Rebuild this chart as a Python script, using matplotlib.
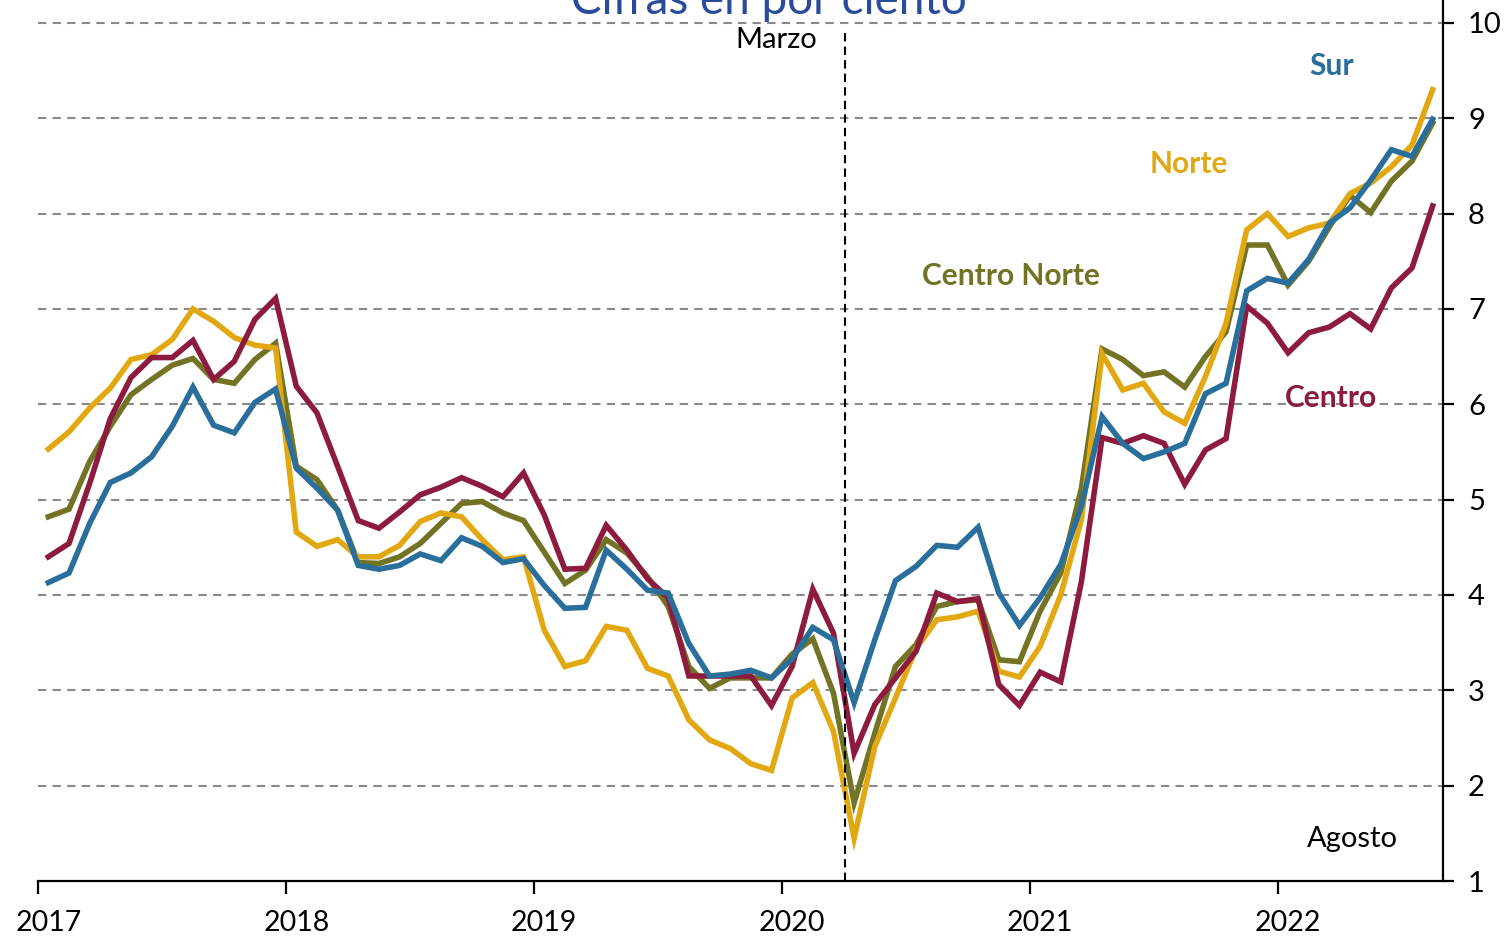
import matplotlib
matplotlib.use("Agg")
import matplotlib.pyplot as plt
import numpy as np

plt.rcParams['font.family'] = ['Lato', 'DejaVu Sans']

years = ["2017", "2018", "2019", "2020", "2021", "2022"]
n_months = 68  # Jan 2017 .. Aug 2022

norte = [5.53, 5.71, 5.96, 6.17, 6.47, 6.52, 6.68, 7.00, 6.87, 6.70, 6.62, 6.59,
         4.66, 4.51, 4.58, 4.40, 4.40, 4.52, 4.77, 4.86, 4.82, 4.58, 4.37, 4.40,
         3.63, 3.25, 3.31, 3.67, 3.63, 3.23, 3.15, 2.69, 2.48, 2.39, 2.23, 2.16,
         2.92, 3.08, 2.57, 1.45, 2.41, 2.92, 3.44, 3.74, 3.77, 3.83, 3.20, 3.14,
         3.46, 4.00, 4.79, 6.53, 6.15, 6.22, 5.92, 5.80, 6.29, 6.85, 7.83, 8.00,
         7.76, 7.85, 7.90, 8.21, 8.32, 8.49, 8.72, 9.30]

centro_norte = [4.82, 4.90, 5.40, 5.77, 6.10, 6.26, 6.41, 6.48, 6.26, 6.22, 6.47, 6.64,
                5.35, 5.21, 4.89, 4.34, 4.33, 4.40, 4.54, 4.75, 4.96, 4.98, 4.86, 4.78,
                4.45, 4.12, 4.26, 4.58, 4.44, 4.19, 3.88, 3.25, 3.02, 3.13, 3.13, 3.13,
                3.38, 3.54, 2.97, 1.82, 2.55, 3.25, 3.48, 3.88, 3.93, 3.95, 3.32, 3.30,
                3.83, 4.23, 5.12, 6.58, 6.47, 6.30, 6.34, 6.18, 6.50, 6.76, 7.67, 7.67,
                7.25, 7.50, 7.86, 8.19, 8.01, 8.34, 8.55, 8.95]

sur = [4.13, 4.23, 4.75, 5.18, 5.28, 5.45, 5.77, 6.18, 5.78, 5.70, 6.02, 6.16,
       5.33, 5.12, 4.89, 4.31, 4.27, 4.31, 4.43, 4.36, 4.60, 4.51, 4.34, 4.38,
       4.10, 3.86, 3.87, 4.47, 4.27, 4.05, 4.02, 3.49, 3.15, 3.17, 3.21, 3.13,
       3.33, 3.66, 3.53, 2.87, 3.53, 4.15, 4.30, 4.52, 4.50, 4.71, 4.02, 3.68,
       3.97, 4.32, 4.93, 5.87, 5.59, 5.43, 5.50, 5.59, 6.11, 6.22, 7.19, 7.32,
       7.27, 7.52, 7.90, 8.06, 8.35, 8.67, 8.60, 8.99]

centro = [4.40, 4.54, 5.17, 5.85, 6.28, 6.49, 6.49, 6.67, 6.26, 6.45, 6.89, 7.11,
          6.19, 5.91, 5.35, 4.78, 4.70, 4.87, 5.05, 5.13, 5.23, 5.14, 5.03, 5.28,
          4.84, 4.27, 4.28, 4.73, 4.47, 4.17, 3.97, 3.15, 3.15, 3.15, 3.15, 2.84,
          3.25, 4.06, 3.60, 2.34, 2.85, 3.13, 3.41, 4.02, 3.93, 3.96, 3.06, 2.84,
          3.19, 3.09, 4.14, 5.65, 5.59, 5.67, 5.59, 5.16, 5.52, 5.64, 7.03, 6.85,
          6.54, 6.75, 6.81, 6.95, 6.79, 7.22, 7.43, 8.08]

y_ticks = [1, 2, 3, 4, 5, 6, 7, 8, 9, 10]

c_norte = '#E2A811'
c_cnorte = '#727324'
c_sur = '#2A6E9C'
c_centro = '#8D1B3D'

fig = plt.figure(figsize=(15.11, 9.36), dpi=100)
W, H = 1511, 936
ax = fig.add_axes([38 / W, (H - 881) / H, (1443 - 38) / W, 881 / H])

x = np.arange(n_months)
ax.set_xlim(-0.5, n_months - 0.5)
ax.set_ylim(1, 10.24)

# grid
for v in y_ticks[1:]:
    ax.axhline(v, color='#8a8a8a', lw=1.5, dashes=(4, 3), zorder=1)

lw = 4.0
ax.plot(x, centro_norte, color=c_cnorte, lw=lw, zorder=3, solid_joinstyle='miter')
ax.plot(x, norte, color=c_norte, lw=lw, zorder=3, solid_joinstyle='miter')
ax.plot(x, centro, color=c_centro, lw=lw, zorder=4, solid_joinstyle='miter')
ax.plot(x, sur, color=c_sur, lw=lw, zorder=5, solid_joinstyle='miter')

# March 2020 marker line
ax.axvline(38.56, ymin=0, ymax=(881 - 32) / 881, color='black', lw=1.5,
           dashes=(4, 2.5), zorder=6)

# spines
for s in ['top', 'left']:
    ax.spines[s].set_visible(False)
ax.spines['bottom'].set_linewidth(1.6)
ax.spines['right'].set_linewidth(1.6)

# y axis on right
ax.yaxis.tick_right()
ax.set_yticks(y_ticks)
ax.set_yticklabels([str(v) for v in y_ticks], fontsize=21)
ax.tick_params(axis='y', direction='out', length=8, width=1.6, pad=10)

# x axis: ticks at year boundaries, labels at January
ax.set_xticks([12 * i - 0.5 for i in range(len(years))])
ax.set_xticklabels([''] * len(years))
ax.tick_params(axis='x', which='major', direction='out', length=9, width=1.6)
ax.set_xticks([12 * i for i in range(len(years))], minor=True)
ax.set_xticklabels(years, minor=True, fontsize=20.5)
ax.tick_params(axis='x', which='minor', length=0, pad=21)

def px(xp, yp):
    return xp / W, 1 - yp / H

# texts
fig.text(*px(769, 14), 'Cifras en por ciento', color='#2A4A9C', fontsize=33,
         ha='center', va='baseline')
fig.text(*px(776, 48), 'Marzo', color='black', fontsize=21, ha='center', va='baseline')
fig.text(*px(1352, 847), 'Agosto', color='black', fontsize=21, ha='center', va='baseline')

fs = 21.5
fig.text(*px(1332, 75), 'Sur', color=c_sur, fontsize=fs, fontweight='bold',
         ha='center', va='baseline')
fig.text(*px(1189, 173), 'Norte', color=c_norte, fontsize=fs, fontweight='bold',
         ha='center', va='baseline')
fig.text(*px(1011, 285), 'Centro Norte', color=c_cnorte, fontsize=fs, fontweight='bold',
         ha='center', va='baseline')
fig.text(*px(1331, 407), 'Centro', color=c_centro, fontsize=fs, fontweight='bold',
         ha='center', va='baseline')

fig.savefig('out.png', dpi=100)
